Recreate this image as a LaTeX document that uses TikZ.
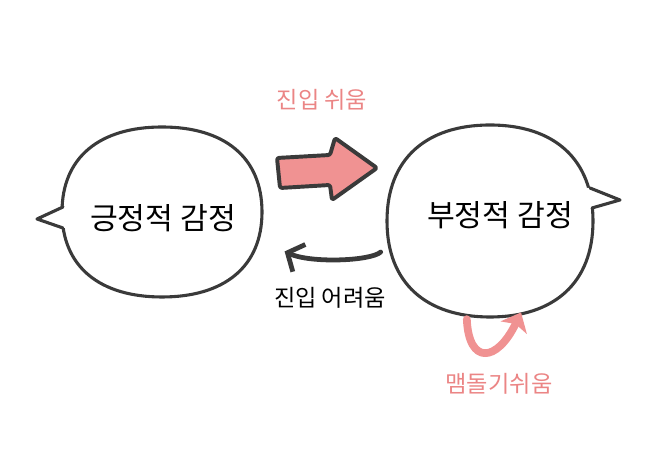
\documentclass[tikz,border=0pt]{standalone}
\usepackage{fontspec}
\newfontfamily\krfont{Noto Sans CJK KR}
\usetikzlibrary{arrows.meta, calc, shapes.geometric}
\definecolor{inkgray}{HTML}{3A3A3A}
\definecolor{rosefill}{HTML}{F09292}
\definecolor{rosetext}{HTML}{EB8585}

\begin{document}
\begin{tikzpicture}[x=0.025cm, y=0.025cm, line join=round, line cap=round,
  bubble/.style={ellipse, inner sep=0pt, text=black, font=\krfont\fontsize{21.5}{25}\selectfont},
  outline/.style={inkgray, line width=2.2pt},
  tag/.style={font=\krfont\fontsize{16.5}{19}\selectfont},
  easygo/.style={draw=inkgray, fill=rosefill, line width=2.8pt, rounded corners=1.5pt},
  hard/.style={inkgray, line width=3.4pt, -{Straight Barb[length=0.32cm, width=0.75cm]}},
  stay/.style={rosefill, line width=5.5pt, -{Stealth[length=0.42cm, width=0.72cm, inset=0.1cm]}}]

% Canvas
\useasboundingbox (0,0) rectangle (658,464);

% Emotion bubbles
\node[bubble, minimum width=5cm, minimum height=4.25cm] (pos) at (163,246) {긍정적 감정};
\node[bubble, minimum width=5.15cm, minimum height=4.8cm] (neg) at (500,249) {부정적 감정};

% Bubble outlines with tails
\begin{scope}[shift={($(pos)+(-1,6)$)}]
  \draw[outline] (0,85) .. controls (62,85) and (100,55) .. (100,0)
    .. controls (100,-55) and (62,-85) .. (0,-85)
    .. controls (-62,-85) and (-100,-55) .. (-100,0)
    .. controls (-100,55) and (-62,85) .. (0,85) -- cycle;
  \fill[white] (-99,5) -- (-125,-7) -- (-99,-16) -- (-93,-16) -- (-93,5) -- cycle;
  \draw[outline] (-99,5) -- (-125,-7) -- (-99,-16);
\end{scope}
\begin{scope}[shift={($(neg)+(-10,-6)$)}]
  \draw[outline] (0,96) .. controls (64,96) and (103,62) .. (103,0)
    .. controls (103,-62) and (64,-96) .. (0,-96)
    .. controls (-64,-96) and (-103,-62) .. (-103,0)
    .. controls (-103,62) and (-64,96) .. (0,96) -- cycle;
  \fill[white] (100,33) -- (130,21) -- (102,13) -- (95,13) -- (95,33) -- cycle;
  \draw[outline] (100,33) -- (130,21) -- (102,13);
\end{scope}

% Easy way in
\draw[easygo] (277,306) -- (330,309) -- (335,326) -- (377,296) -- (332,264) -- (330,279) -- (280,276) -- cycle;
\node[tag, text=rosetext] (easylbl) at (322,364) {진입 쉬움};

% Hard way back
\draw[hard] ($(neg.200)+(-23,-2)$) .. controls +(-10,-9) and +(26,-12) .. ($(pos.-20)+(27,1)$);
\node[tag, text=black] (hardlbl) at (330,166) {진입 어려움};

% Staying loop
\draw[stay] ($(neg.250)+(0,-13)$) .. controls +(2,-46) and +(-24,-50) .. ($(neg.285)+(-4,-4)$);
\node[tag, text=rosetext] (staylbl) at (499,80) {맴돌기쉬움};

\end{tikzpicture}
\end{document}
